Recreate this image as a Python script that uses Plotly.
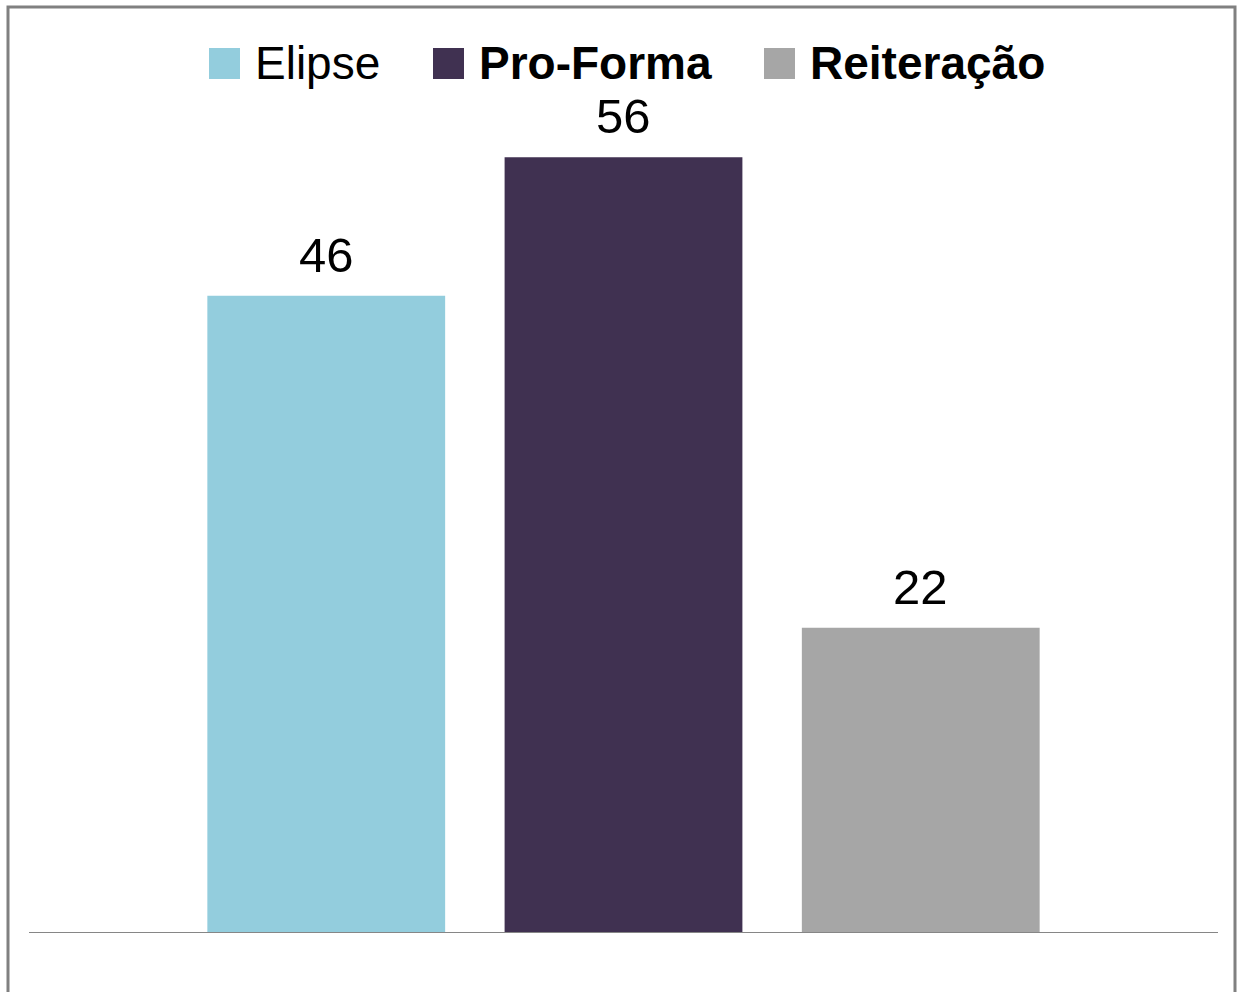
import plotly.graph_objects as go

categories = ["Elipse", "Pro-Forma", "Reiteração"]
values = [46, 56, 22]
colors = ["#93CDDD", "#403151", "#A6A6A6"]
legend_labels = ["Elipse", "<b>Pro-Forma</b>", "<b>Reiteração</b>"]

W, H = 1239, 992
L, R, T, B = 29, 21, 102, 60
FONT = "Liberation Sans, Arial, sans-serif"

def px_x(p):
    return (p - L) / (W - L - R)

def px_y(p):
    return (H - B - p) / (H - T - B)

fig = go.Figure()
for cat, val, col in zip(categories, values, colors):
    fig.add_trace(go.Bar(x=[cat], y=[val], marker=dict(color=col, line=dict(width=0)),
                         width=0.8, name=cat, showlegend=False))
    fig.add_annotation(x=cat, y=val, text=str(val), showarrow=False,
                       yanchor="bottom", yshift=12,
                       font=dict(family=FONT, size=49, color="#000000"))

# custom legend (large square swatches like the original)
sw_left = [209, 433, 764]
txt_left = [253, 477, 808]
for lab, col, sx, tx in zip(legend_labels, colors, sw_left, txt_left):
    fig.add_shape(type="rect", xref="paper", yref="paper",
                  x0=px_x(sx), x1=px_x(sx + 31), y0=px_y(79), y1=px_y(48),
                  fillcolor=col, line=dict(width=0))
    fig.add_annotation(xref="paper", yref="paper", x=px_x(tx), y=px_y(63),
                       xanchor="left", yanchor="middle", text=lab, showarrow=False,
                       font=dict(family=FONT, size=46, color="#000000"))

# outer chart border
fig.add_shape(type="rect", xref="paper", yref="paper",
              x0=px_x(8), x1=px_x(1235), y0=px_y(1010), y1=px_y(7),
              line=dict(color="#808080", width=3), fillcolor="rgba(0,0,0,0)", layer="above")

fig.update_layout(
    width=W, height=H,
    margin=dict(l=L, r=R, t=T, b=B),
    paper_bgcolor="white", plot_bgcolor="white",
    barmode="overlay",
    showlegend=False,
    xaxis=dict(range=[-1, 3], showticklabels=False, showgrid=False, zeroline=False,
               showline=True, linecolor="#868686", linewidth=1, ticks=""),
    yaxis=dict(range=[0, 60], visible=False, showgrid=False, zeroline=False),
)

fig.write_html("out.html")
